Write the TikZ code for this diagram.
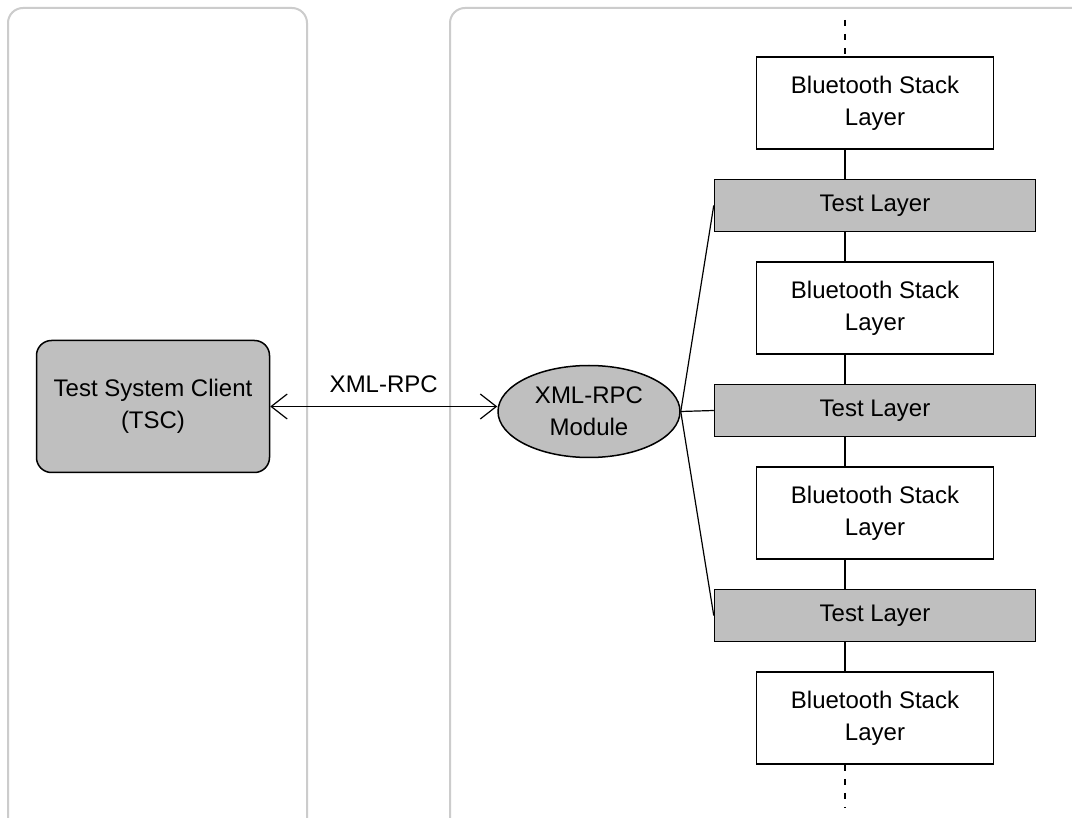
\documentclass[tikz,border=0pt]{standalone}
\usepackage{fontspec}
\setsansfont{Liberation Sans}
\usepackage{tikz}
\usetikzlibrary{shapes.geometric, arrows.meta, positioning, calc}

\begin{document}
\begin{tikzpicture}[
        x=1pt, y=-1pt,
        node distance=29pt and 30pt,
        >={Straight Barb[length=16pt,width=25pt]},
        font=\sffamily\fontsize{24}{32}\selectfont,
        % block styles
        panel/.style={draw=gray!40, line width=2pt, rounded corners=15pt},
        client/.style={rectangle, rounded corners=15pt, draw=black, line width=1.5pt, fill=gray!50, minimum width=233pt, minimum height=132pt, align=center},
        module/.style={ellipse, draw=black, line width=1.5pt, fill=gray!50, minimum width=182pt, minimum height=92pt, inner sep=0pt, align=center},
        stacklayer/.style={rectangle, draw=black, line width=1.5pt, fill=white, minimum width=237pt, minimum height=92pt, align=center},
        testlayer/.style={rectangle, draw=black, line width=1.5pt, fill=gray!50, minimum width=321pt, minimum height=52pt, align=center},
        arrow/.style={line width=1.2pt, <->},
        line/.style={line width=1.2pt},
        spine/.style={line width=1.2pt, dash pattern=on 6pt off 8pt}
    ]

    % --- 0. PAGE AND PANELS ---
    \useasboundingbox (0,0) rectangle (1072,818);
    \clip (0,0) rectangle (1072,818);
    \fill[white] (0,0) rectangle (1072,818);
    \draw[panel] (8,8) rectangle (307,850);
    \draw[panel] (450,8) rectangle (1110,850);

    % --- 1. NODES ---
    \node[stacklayer] (bsl1) at (875,103) {Bluetooth Stack\\Layer};
    \node[testlayer, below=of bsl1] (test1) {Test Layer};
    \node[stacklayer, below=of test1] (bsl2) {Bluetooth Stack\\Layer};
    \node[testlayer, below=of bsl2] (test2) {Test Layer};
    \node[stacklayer, below=of test2] (bsl3) {Bluetooth Stack\\Layer};
    \node[testlayer, below=of bsl3] (test3) {Test Layer};
    \node[stacklayer, below=of test3] (bsl4) {Bluetooth Stack\\Layer};

    \node[module, left=33pt of test2, yshift=-1pt] (xmlrpc) {XML-RPC\\Module};
    \node[client, left=227pt of xmlrpc, yshift=5pt] (tsc) {Test System Client\\(TSC)};

    \coordinate (top) at (845,20);
    \coordinate (bottom) at (845,807);

    % --- 2. CONNECTORS ---
    \draw[arrow] (tsc.east) -- node[above=10pt] {XML-RPC} (tsc.east -| xmlrpc.west);

    % fan out to the test layers
    \draw[line] (xmlrpc.east) -- (test1.west);
    \draw[line] (xmlrpc.east) -- (test2.west);
    \draw[line] (xmlrpc.east) -- (test3.west);

    % the layer stack
    \draw[spine] (top) -- (bsl1.north -| top);
    \draw[line] (bsl1.south -| top) -- (test1.north -| top);
    \draw[line] (test1.south -| top) -- (bsl2.north -| top);
    \draw[line] (bsl2.south -| top) -- (test2.north -| top);
    \draw[line] (test2.south -| top) -- (bsl3.north -| top);
    \draw[line] (bsl3.south -| top) -- (test3.north -| top);
    \draw[line] (test3.south -| top) -- (bsl4.north -| top);
    \draw[spine] (bsl4.south -| bottom) -- (bottom);

\end{tikzpicture}
\end{document}
